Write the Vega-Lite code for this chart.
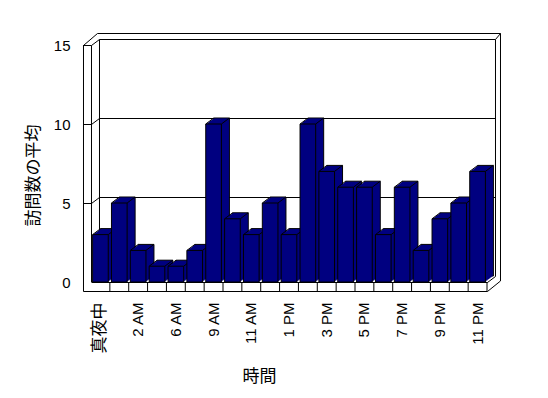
{
  "$schema": "https://vega.github.io/schema/vega-lite/v6.json",
  "width": 405,
  "height": 237,
  "autosize": "none",
  "padding": {"left": 83, "top": 45, "right": 60, "bottom": 116},
  "background": "white",
  "config": {"view": {"stroke": null}, "font": "Liberation Sans"},
  "resolve": {"axis": {"x": "independent", "y": "independent"}},
  "data": {"values": [
    {"hour": "真夜中", "visits": 3},
    {"hour": "1 AM", "visits": 5},
    {"hour": "2 AM", "visits": 2},
    {"hour": "5 AM", "visits": 1},
    {"hour": "6 AM", "visits": 1},
    {"hour": "8 AM", "visits": 2},
    {"hour": "9 AM", "visits": 10},
    {"hour": "10 AM", "visits": 4},
    {"hour": "11 AM", "visits": 3},
    {"hour": "正午", "visits": 5},
    {"hour": "1 PM", "visits": 3},
    {"hour": "2 PM", "visits": 10},
    {"hour": "3 PM", "visits": 7},
    {"hour": "4 PM", "visits": 6},
    {"hour": "5 PM", "visits": 6},
    {"hour": "6 PM", "visits": 3},
    {"hour": "7 PM", "visits": 6},
    {"hour": "8 PM", "visits": 2},
    {"hour": "9 PM", "visits": 4},
    {"hour": "10 PM", "visits": 5},
    {"hour": "11 PM", "visits": 7}
  ]},
  "layer": [
    {
      "data": {"values": [{"c": "真夜中", "v": 15}]},
      "mark": {"type": "point", "shape": "M0.5,0L0.5,246.5L404.5,246.5L417.5,236L417.5,-11.5L14.5,-11.5L0.5,0.5M8.5,0.5L8.5,237M16.5,-5.5L16.5,231.5M412.5,-5.5L412.5,231.5M412.5,-5.5L417.5,-11.5M404.5,237.5L412.5,231.5", "size": 4, "filled": false, "color": "black", "opacity": 1, "strokeWidth": 1, "xOffset": -17.4286},
      "encoding": {"x": {"field": "c", "type": "nominal", "axis": null}, "y": {"field": "v", "type": "quantitative", "axis": null}}
    },
    {
      "data": {"values": [{"c": "真夜中", "v": 5}, {"c": "真夜中", "v": 10}, {"c": "真夜中", "v": 15}]},
      "mark": {"type": "point", "shape": "M0.5,0.5L8.5,0.5L16.5,-5.5L412.5,-5.5", "size": 4, "filled": false, "color": "black", "opacity": 1, "strokeWidth": 1, "xOffset": -17.4286},
      "encoding": {"x": {"field": "c", "type": "nominal", "axis": null}, "y": {"field": "v", "type": "quantitative", "axis": null}}
    },
    {
      "mark": {"type": "bar", "fill": "#000080", "stroke": "black", "strokeWidth": 1, "width": {"band": 0.83}, "xOffset": 8, "yOffset": -6, "y2Offset": -6},
      "encoding": {"x": {"field": "hour", "type": "nominal", "sort": null, "axis": null}, "y": {"field": "visits", "type": "quantitative", "axis": null}}
    },
    {
      "mark": {"type": "bar", "fill": "#000080", "strokeWidth": 0, "width": {"band": 0.83}, "xOffset": 7, "yOffset": -5.25, "y2Offset": -5.25},
      "encoding": {"x": {"field": "hour", "type": "nominal", "sort": null, "axis": null}, "y": {"field": "visits", "type": "quantitative", "axis": null}}
    },
    {
      "mark": {"type": "bar", "fill": "#000080", "strokeWidth": 0, "width": {"band": 0.83}, "xOffset": 6, "yOffset": -4.5, "y2Offset": -4.5},
      "encoding": {"x": {"field": "hour", "type": "nominal", "sort": null, "axis": null}, "y": {"field": "visits", "type": "quantitative", "axis": null}}
    },
    {
      "mark": {"type": "bar", "fill": "#000080", "strokeWidth": 0, "width": {"band": 0.83}, "xOffset": 5, "yOffset": -3.75, "y2Offset": -3.75},
      "encoding": {"x": {"field": "hour", "type": "nominal", "sort": null, "axis": null}, "y": {"field": "visits", "type": "quantitative", "axis": null}}
    },
    {
      "mark": {"type": "bar", "fill": "#000080", "strokeWidth": 0, "width": {"band": 0.83}, "xOffset": 4, "yOffset": -3, "y2Offset": -3},
      "encoding": {"x": {"field": "hour", "type": "nominal", "sort": null, "axis": null}, "y": {"field": "visits", "type": "quantitative", "axis": null}}
    },
    {
      "mark": {"type": "bar", "fill": "#000080", "strokeWidth": 0, "width": {"band": 0.83}, "xOffset": 3, "yOffset": -2.25, "y2Offset": -2.25},
      "encoding": {"x": {"field": "hour", "type": "nominal", "sort": null, "axis": null}, "y": {"field": "visits", "type": "quantitative", "axis": null}}
    },
    {
      "mark": {"type": "bar", "fill": "#000080", "strokeWidth": 0, "width": {"band": 0.83}, "xOffset": 2, "yOffset": -1.5, "y2Offset": -1.5},
      "encoding": {"x": {"field": "hour", "type": "nominal", "sort": null, "axis": null}, "y": {"field": "visits", "type": "quantitative", "axis": null}}
    },
    {
      "mark": {"type": "bar", "fill": "#000080", "strokeWidth": 0, "width": {"band": 0.83}, "xOffset": 1, "yOffset": -0.75, "y2Offset": -0.75},
      "encoding": {"x": {"field": "hour", "type": "nominal", "sort": null, "axis": null}, "y": {"field": "visits", "type": "quantitative", "axis": null}}
    },
    {
      "mark": {"type": "point", "shape": "M0,0L1,-0.75", "size": 256, "filled": false, "color": "black", "opacity": 1, "strokeWidth": 1, "xOffset": -7.83},
      "encoding": {"x": {"field": "hour", "type": "nominal", "sort": null, "axis": null}, "y": {"field": "visits", "type": "quantitative", "axis": null}}
    },
    {
      "mark": {"type": "point", "shape": "M0,0L1,-0.75", "size": 256, "filled": false, "color": "black", "opacity": 1, "strokeWidth": 1, "xOffset": 7.83},
      "encoding": {"x": {"field": "hour", "type": "nominal", "sort": null, "axis": null}, "y": {"field": "visits", "type": "quantitative", "axis": null}}
    },
    {
      "mark": {"type": "bar", "fill": "#000080", "stroke": "black", "strokeWidth": 1, "width": {"band": 0.83}},
      "encoding": {
        "x": {
          "field": "hour", "type": "nominal", "sort": null,
          "scale": {"domain": ["真夜中", "1 AM", "2 AM", "5 AM", "6 AM", "8 AM", "9 AM", "10 AM", "11 AM", "正午", "1 PM", "2 PM", "3 PM", "4 PM", "5 PM", "6 PM", "7 PM", "8 PM", "9 PM", "10 PM", "11 PM"], "range": [8, 404], "paddingInner": 0, "paddingOuter": 0},
          "axis": {
            "values": ["真夜中", "2 AM", "6 AM", "9 AM", "11 AM", "1 PM", "3 PM", "5 PM", "7 PM", "9 PM", "11 PM"],
            "title": "時間", "labelAngle": 270, "labelFontSize": {"expr": "datum.label == '真夜中' ? 17 : 15"}, "labelFont": "Liberation Sans, Noto Sans CJK JP", "labelColor": "black",
            "labelPadding": 20, "ticks": false, "tickSize": 0, "domain": false, "grid": false, "labelOverlap": false, "labelBound": false,
            "titleFont": "Noto Sans CJK JP", "titleFontSize": 17, "titleFontWeight": "normal", "titleColor": "black",
            "titleX": 176, "titleY": 94, "titleBaseline": "middle", "titleAlign": "center"
          }
        },
        "y": {
          "field": "visits", "type": "quantitative",
          "scale": {"domain": [0, 15], "nice": false},
          "axis": {
            "values": [0, 5, 10, 15], "title": "訪問数の平均", "labelFontSize": 15, "labelFont": "Liberation Sans", "labelColor": "black",
            "labelPadding": 13, "ticks": false, "tickSize": 0, "domain": false, "grid": false,
            "titleFont": "Noto Sans CJK JP", "titleFontSize": 17, "titleFontWeight": "normal", "titleColor": "black",
            "titleX": -50, "titleY": 130, "titleBaseline": "middle", "titleAlign": "center", "titleAngle": 270
          }
        }
      }
    },
    {
      "data": {"values": [{"c": "真夜中", "v": 0}]},
      "mark": {"type": "point", "shape": "M8.5,0.5L404.5,0.5", "size": 4, "filled": false, "color": "black", "opacity": 1, "strokeWidth": 1, "xOffset": -17.4286},
      "encoding": {"x": {"field": "c", "type": "nominal", "axis": null}, "y": {"field": "v", "type": "quantitative", "axis": null}}
    },
    {
      "mark": {"type": "point", "shape": "M9.43,0L9.43,9.5", "size": 4, "filled": false, "color": "black", "opacity": 1, "strokeWidth": 1},
      "encoding": {"x": {"field": "hour", "type": "nominal", "sort": null, "axis": null}, "y": {"datum": 0, "axis": null}}
    }
  ]
}
